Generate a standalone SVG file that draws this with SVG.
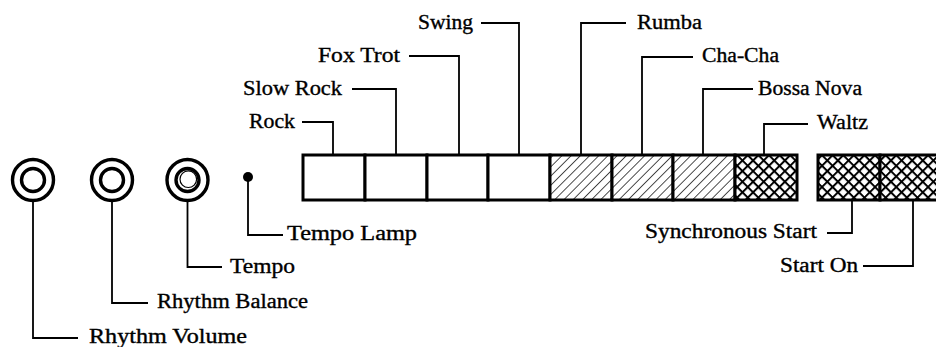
<svg xmlns="http://www.w3.org/2000/svg" width="936" height="347" viewBox="0 0 936 347">
  <defs>
    <!-- single diagonal hatching -->
    <pattern id="hatch" patternUnits="userSpaceOnUse" width="6.5" height="6.5" patternTransform="rotate(45)">
      <rect width="6.5" height="6.5" fill="#fff"/>
      <line x1="0" y1="0" x2="0" y2="6.5" stroke="#000" stroke-width="1.4"/>
    </pattern>
    <!-- dense cross hatching -->
    <pattern id="cross" patternUnits="userSpaceOnUse" width="7.5" height="7.5" patternTransform="rotate(45)">
      <rect width="7.5" height="7.5" fill="#fff"/>
      <line x1="0" y1="0" x2="0" y2="7.5" stroke="#000" stroke-width="4"/>
      <line x1="0" y1="0" x2="7.5" y2="0" stroke="#000" stroke-width="4"/>
    </pattern>
  </defs>
  <style>
    text { font-family: "Liberation Serif", "Times New Roman", serif; font-size: 20px; fill: #000; stroke: #000; stroke-width: 0.35; }
    .lead { fill: none; stroke: #000; stroke-width: 1.8; }
    .btn { stroke: #000; stroke-width: 3; }
    .ring { fill: none; stroke: #000; stroke-width: 3.4; }
  </style>
  <rect width="936" height="347" fill="#fff"/>

  <!-- knobs -->
  <g id="knob-rhythm-volume">
    <circle class="ring" cx="33" cy="180" r="20.5"/>
    <circle class="ring" cx="33" cy="180" r="11.5"/>
  </g>
  <g id="knob-rhythm-balance">
    <circle class="ring" cx="112" cy="180" r="20.5"/>
    <circle class="ring" cx="112" cy="180" r="11.5"/>
  </g>
  <g id="knob-tempo">
    <circle class="ring" cx="187.5" cy="180" r="20.5"/>
    <circle class="ring" cx="187.5" cy="180" r="11.5"/>
    <circle fill="none" stroke="#000" stroke-width="1.2" cx="188.3" cy="179.2" r="8.3"/>
  </g>
  <g id="tempo-lamp">
    <circle cx="248" cy="177" r="5" fill="#000"/>
  </g>

  <!-- rhythm selector buttons -->
  <g id="btn-rock"><rect class="btn" x="303" y="155" width="62" height="45" fill="#fff"/></g>
  <g id="btn-slow-rock"><rect class="btn" x="365" y="155" width="62" height="45" fill="#fff"/></g>
  <g id="btn-fox-trot"><rect class="btn" x="427" y="155" width="61" height="45" fill="#fff"/></g>
  <g id="btn-swing"><rect class="btn" x="488" y="155" width="62" height="45" fill="#fff"/></g>
  <g id="btn-rumba"><rect class="btn" x="550" y="155" width="62" height="45" fill="url(#hatch)"/></g>
  <g id="btn-cha-cha"><rect class="btn" x="612" y="155" width="61" height="45" fill="url(#hatch)"/></g>
  <g id="btn-bossa-nova"><rect class="btn" x="673" y="155" width="62" height="45" fill="url(#hatch)"/></g>
  <g id="btn-waltz"><rect class="btn" x="735" y="155" width="62" height="45" fill="url(#cross)"/></g>
  <g id="btn-sync-start"><rect class="btn" x="818" y="155" width="62" height="45" fill="url(#cross)"/></g>
  <g id="btn-start-on"><rect class="btn" x="880" y="155" width="62" height="45" fill="url(#cross)"/></g>

  <!-- leader lines -->
  <g id="connectors">
    <path class="lead" d="M302,122 H333 V155"/>
    <path class="lead" d="M352,89 H396 V155"/>
    <path class="lead" d="M409,56 H459 V155"/>
    <path class="lead" d="M481,23 H519 V155"/>
    <path class="lead" d="M626,23 H581 V155"/>
    <path class="lead" d="M693,57 H642 V155"/>
    <path class="lead" d="M753,89 H703 V155"/>
    <path class="lead" d="M808,124 H764 V155"/>
    <path class="lead" d="M827,233 H852 V200"/>
    <path class="lead" d="M863,266 H913 V200"/>
    <path class="lead" d="M248,177 V235 H283"/>
    <path class="lead" d="M187.5,202 V267 H222"/>
    <path class="lead" d="M112,202 V303 H148"/>
    <path class="lead" d="M33,202 V338 H78"/>
  </g>

  <!-- labels -->
  <g id="labels">
    <text x="249" y="128" textLength="46" lengthAdjust="spacingAndGlyphs">Rock</text>
    <text x="243" y="95" textLength="99" lengthAdjust="spacingAndGlyphs">Slow Rock</text>
    <text x="318" y="62" textLength="82" lengthAdjust="spacingAndGlyphs">Fox Trot</text>
    <text x="418" y="29" textLength="55" lengthAdjust="spacingAndGlyphs">Swing</text>
    <text x="637" y="29" textLength="65" lengthAdjust="spacingAndGlyphs">Rumba</text>
    <text x="702" y="62" textLength="77" lengthAdjust="spacingAndGlyphs">Cha-Cha</text>
    <text x="758" y="95" textLength="104" lengthAdjust="spacingAndGlyphs">Bossa Nova</text>
    <text x="817" y="129" textLength="51" lengthAdjust="spacingAndGlyphs">Waltz</text>
    <text x="645" y="238" textLength="172" lengthAdjust="spacingAndGlyphs">Synchronous Start</text>
    <text x="780" y="272" textLength="78" lengthAdjust="spacingAndGlyphs">Start On</text>
    <text x="287" y="240" textLength="130" lengthAdjust="spacingAndGlyphs">Tempo Lamp</text>
    <text x="230" y="273" textLength="65" lengthAdjust="spacingAndGlyphs">Tempo</text>
    <text x="157" y="308" textLength="151" lengthAdjust="spacingAndGlyphs">Rhythm Balance</text>
    <text x="89" y="343" textLength="158" lengthAdjust="spacingAndGlyphs">Rhythm Volume</text>
  </g>
</svg>
